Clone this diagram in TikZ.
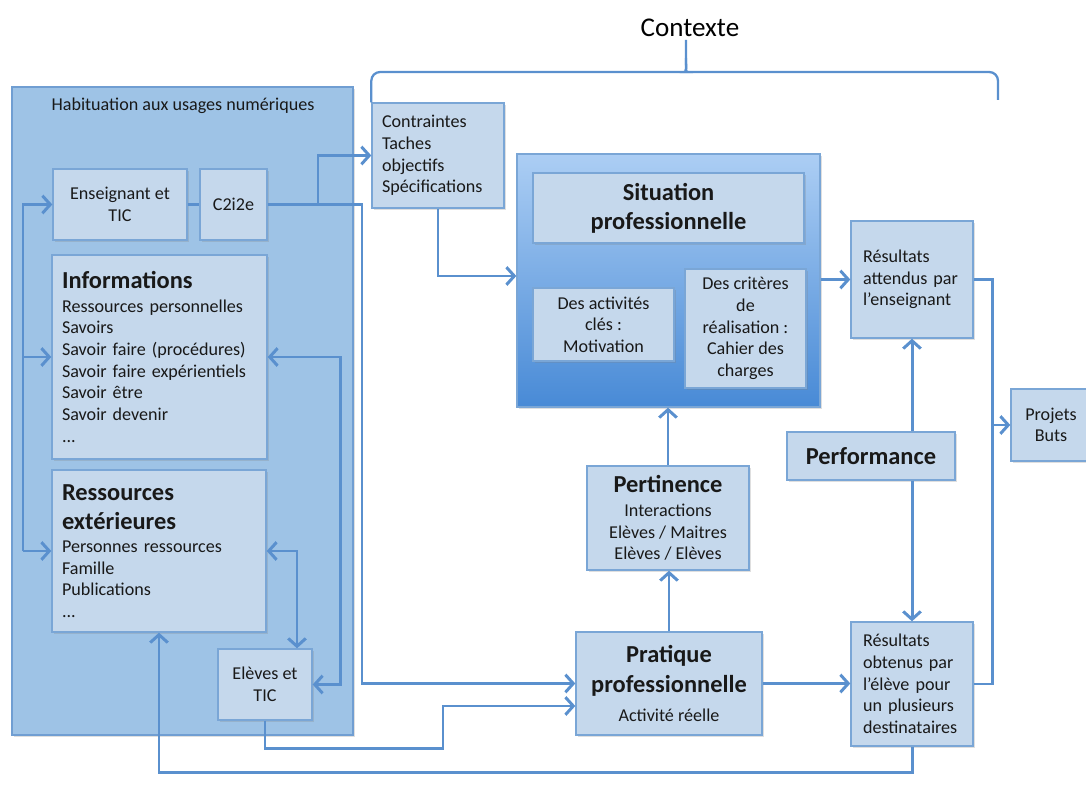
\documentclass[tikz,border=0pt]{standalone}
\usepackage{fontspec}
\setmainfont{Carlito}
\usepackage{tikz}
\usepackage{xcolor}
\usetikzlibrary{arrows.meta}
\usetikzlibrary{shadows}

\definecolor{kastenfarbe}{RGB}{197,216,236}
\definecolor{kastenrand}{RGB}{122,166,214}
\definecolor{gruppenfarbe}{RGB}{158,195,230}
\definecolor{gruppenrand}{RGB}{112,158,210}
\definecolor{linie}{RGB}{90,144,206}
\definecolor{hell}{RGB}{172,206,244}
\definecolor{dunkel}{RGB}{72,138,214}

\newcommand{\grundschrift}{\fontsize{10.3}{12.3}\selectfont}
\newcommand{\kopfschrift}{\fontsize{13.9}{16.6}\selectfont\bfseries}

\begin{document}
\begin{tikzpicture}[x=0.02cm, y=-0.02cm,
	>={Straight Barb[length=4.5pt,width=10pt]},
	schatten/.style={drop shadow={shadow xshift=1pt,shadow yshift=-1pt,opacity=0.25}},
	kasten/.style={draw=kastenrand, line width=0.8pt, fill=kastenfarbe, schatten, text=black!90, font=\grundschrift, inner sep=0pt},
	links/.style={kasten, align=left, inner xsep=0.2cm},
	mitte/.style={kasten, align=center},
	gruppe/.style={draw=gruppenrand, line width=0.8pt, fill=gruppenfarbe, schatten},
	verbindung/.style={draw=linie, line width=1.7pt}]
	 \useasboundingbox (0,0) rectangle (1086,787);
	 %
	 \node (habituation) at (182.5,411) [gruppe, minimum width=6.82cm, minimum height=12.96cm] {};
	 \node (habtitel) at (183,106) [font=\grundschrift, text=black!90] {Habituation aux usages numériques};
	 %
	 \node (enseignant) at (120,204.5) [mitte, minimum width=2.68cm, minimum height=1.42cm] {Enseignant et\\TIC};
	 %
	 \node (ctoie) at (233.5,204.5) [mitte, minimum width=1.34cm, minimum height=1.42cm] {C2i2e};
	 %
	 \node (informations) at (159.5,357) [links, text width=3.9cm, minimum height=4.08cm] {{\kopfschrift Informations}\\[1pt]Ressources personnelles\\Savoirs\\Savoir faire (procédures)\\Savoir faire expérientiels\\Savoir être\\Savoir devenir\\...};
	 %
	 \node (ressources) at (159,551) [links, text width=3.88cm, minimum height=3.24cm] {{\kopfschrift Ressources}\\[4pt]{\kopfschrift extérieures}\\[1pt]Personnes ressources\\Famille\\Publications\\...};
	 %
	 \node (eleves) at (265,684.5) [mitte, minimum width=1.88cm, minimum height=1.42cm] {Elèves et\\TIC};
	 %
	 \node (contraintes) at (438,155.5) [links, text width=2.24cm, minimum height=2.1cm] {Contraintes\\Taches\\objectifs\\Spécifications};
	 %
	 \node (situation) at (668.5,280.5) [draw=kastenrand, line width=0.8pt, top color=hell, bottom color=dunkel, schatten, minimum width=6.06cm, minimum height=5.06cm] {};
	 %
	 \node (sittitel) at (668.5,208) [mitte, font=\kopfschrift, minimum width=5.42cm, minimum height=1.4cm] {Situation\\professionnelle};
	 %
	 \node (activites) at (603.5,324.5) [mitte, minimum width=2.82cm, minimum height=1.46cm] {Des activités\\clés :\\Motivation};
	 %
	 \node (criteres) at (745.5,328.5) [mitte, minimum width=2.42cm, minimum height=2.38cm] {Des critères\\de\\réalisation :\\Cahier des\\charges};
	 %
	 \node (pertinence) at (668,518) [mitte, minimum width=3.24cm, minimum height=2.08cm] {{\kopfschrift Pertinence}\\[1.5pt]Interactions\\Elèves / Maitres\\Elèves / Elèves};
	 %
	 \node (pratique) at (669,683.5) [mitte, font=\kopfschrift, minimum width=3.72cm, minimum height=2.06cm] {Pratique\\professionnelle\\{\grundschrift\mdseries Activité réelle}};
	 %
	 \node (attendus) at (912,279.5) [links, inner xsep=0.24cm, text width=1.96cm, minimum height=2.34cm] {Résultats\\attendus par\\l’enseignant};
	 %
	 \node (performance) at (871,456) [mitte, font=\kopfschrift, minimum width=3.36cm, minimum height=0.96cm] {Performance};
	 %
	 \node (obtenus) at (912,684) [links, inner xsep=0.24cm, text width=1.96cm, minimum height=2.48cm] {Résultats\\obtenus par\\l’élève pour\\un plusieurs\\destinataires};
	 %
	 \node (projets) at (1051,425) [mitte, minimum width=1.6cm, minimum height=1.44cm] {Projets\\Buts};
	 %
	 \node (contexte) at (690,28) [font=\fontsize{15.4}{18}\selectfont] {Contexte};
	 %
	 %Contexte-Klammer
	 \draw[verbindung, line width=1.3pt, rounded corners=5pt] (contraintes.north west) |- (679,72) .. controls (685,72) and (686,68) .. (686,58) -- (686,40);
	 \draw[verbindung, line width=1.3pt, rounded corners=5pt] (998,100) |- (693,72) .. controls (687,72) and (686,68) .. (686,58);
	 %
	 %Enseignant-C2i2e
	 \draw[verbindung] (enseignant.east) -- (ctoie.west);
	 %
	 %C2i2e-Contraintes
	 \coordinate (abzweig) at (318,204.5);
	 \draw[verbindung,->] (ctoie.east) -- (abzweig) |- (contraintes.west);
	 %
	 %C2i2e-Pratique
	 \draw[verbindung,->] (abzweig) -- ++(44,0) |- (pratique.west);
	 %
	 %Verteiler links
	 \coordinate (verteiler) at (23,551);
	 \draw[verbindung,->] (verteiler) |- (enseignant.west);
	 \draw[verbindung,->] (verteiler |- informations.west) -- (informations.west);
	 \draw[verbindung,->] (verteiler) -- (ressources.west);
	 %
	 %Informations-Eleves
	 \draw[verbindung,<->] (informations.east) -- ++(73,0) |- (eleves.east);
	 %
	 %Ressources-Eleves
	 \draw[verbindung,<->] (ressources.east) -| ([xshift=0.64cm]eleves.north);
	 %
	 %Eleves-Pratique
	 \draw[verbindung,->] (eleves.south) -- ++(0,28) -- ++(178,0) |- ([yshift=-0.45cm]pratique.west);
	 %
	 %Contraintes-Situation
	 \draw[verbindung,->] (contraintes.south) |- ([yshift=0.09cm]situation.west);
	 %
	 %Situation-Attendus
	 \draw[verbindung,->] (situation.east |- attendus.west) -- (attendus.west);
	 %
	 %Pratique-Pertinence
	 \draw[verbindung,->] (pratique.north) -- (pratique.north |- pertinence.south);
	 %
	 %Pertinence-Situation
	 \draw[verbindung,->] (pertinence.north) -- (pertinence.north |- situation.south);
	 %
	 %Pratique-Obtenus
	 \draw[verbindung,->] (pratique.east) -- (pratique.east -| obtenus.west);
	 %
	 %Performance-Attendus
	 \draw[verbindung,->] (performance.north -| attendus.south) -- (attendus.south);
	 %
	 %Performance-Obtenus
	 \draw[verbindung,->] (performance.south -| obtenus.north) -- (obtenus.north);
	 %
	 %Attendus-Obtenus-Projets
	 \coordinate (sammel) at (992,425);
	 \draw[verbindung] (attendus.east) -| (sammel) |- (obtenus.east);
	 \draw[verbindung,->] (sammel) -- (projets.west);
	 %
	 %Obtenus-Ressources
	 \draw[verbindung,->] (obtenus.south) -- ++(0,26) -| (ressources.south);
\end{tikzpicture}
\end{document}
